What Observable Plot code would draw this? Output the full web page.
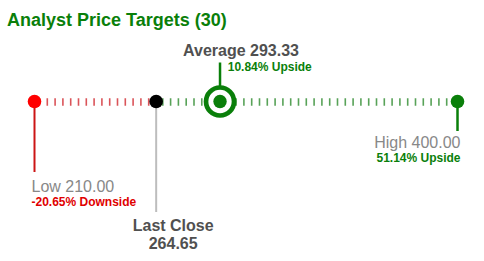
<!DOCTYPE html>
<html>
<head>
<meta charset="utf-8">
<script src="https://cdn.jsdelivr.net/npm/d3@7"></script>
<script src="https://cdn.jsdelivr.net/npm/@observablehq/plot@0.6"></script>
<style>
  body { margin: 0; background: #fff; font-family: "Liberation Sans", Arial, sans-serif; }
  #title { height: 30px; box-sizing: border-box; padding: 10px 0 0 7px; font-size: 18px; line-height: 20px; font-weight: bold; color: #0a7f0a; white-space: nowrap; }
  svg { display: block; }
</style>
</head>
<body>
<div id="title"></div>
<div id="chart"></div>
<script>
// ---- data ----
const titleText = "Analyst Price Targets";
const analystCount = 30;
const pointNames = ["Low", "Last Close", "Average", "High"];
const pointValues = [210.00, 264.65, 293.33, 400.00];
const pointChanges = ["-20.65% Downside", "", "10.84% Upside", "51.14% Upside"];

document.getElementById("title").textContent = `${titleText} (${analystCount})`;

const [low, close, avg, high] = pointValues;
const fmt = d3.format(".2f");

const GREEN = "#0a7f0a";
const RED = "#ff0000";
const LINE_Y = 101;
const FONT = "Liberation Sans, Arial, sans-serif";

const chart = Plot.plot({
  width: 484,
  height: 231,
  margin: 0,
  style: { fontFamily: FONT, background: "white" },
  x: { domain: [low, high], range: [34, 457], axis: null },
  y: { domain: [30, 261], range: [0, 231], axis: null },
  marks: [
    // dashed tick rails
    Plot.link([{ a: low, b: close }], { x1: "a", x2: "b", y1: LINE_Y + 0.5, y2: LINE_Y + 0.5, stroke: "#d3363c", strokeOpacity: 0.85, strokeWidth: 7.5, strokeDasharray: "1.6 6.2", strokeDashoffset: 3.6 }),
    Plot.link([{ a: close, b: avg }], { x1: "a", x2: "b", y1: LINE_Y + 0.5, y2: LINE_Y + 0.5, stroke: "#2e8b2e", strokeOpacity: 0.8, strokeWidth: 7.5, strokeDasharray: "1.6 6.2", strokeDashoffset: 1.97 }),
    Plot.link([{ a: avg, b: high }], { x1: "a", x2: "b", y1: LINE_Y + 0.5, y2: LINE_Y + 0.5, stroke: "#2e8b2e", strokeOpacity: 0.8, strokeWidth: 7.5, strokeDasharray: "1.6 6.2", strokeDashoffset: 0.32 }),
    // stems
    Plot.ruleX([low], { x: d => d, y1: LINE_Y, y2: 172, stroke: "#cc1515", strokeWidth: 2 }),
    Plot.ruleX([close], { x: d => d, y1: LINE_Y, y2: 212, stroke: "#bdbdbd", strokeWidth: 2 }),
    Plot.ruleX([high], { x: d => d, y1: LINE_Y, y2: 131, stroke: GREEN, strokeWidth: 2.5 }),
    Plot.ruleX([avg], { x: d => d, y1: 62.5, y2: LINE_Y - 14, stroke: GREEN, strokeWidth: 2.5 }),
    // dots
    Plot.dot([low], { x: d => d, y: LINE_Y, r: 6.8, fill: RED }),
    Plot.dot([close], { x: d => d, y: LINE_Y, r: 6.8, fill: "#000" }),
    Plot.dot([high], { x: d => d, y: LINE_Y, r: 6.8, fill: GREEN }),
    Plot.dot([avg], { x: d => d, y: LINE_Y, r: 14, fill: "white", stroke: GREEN, strokeWidth: 4.7 }),
    Plot.dot([avg], { x: d => d, y: LINE_Y, r: 6.7, fill: GREEN }),
    // labels: average
    Plot.text([avg], { x: d => d, y: 55.7, dx: 21, text: d => `${pointNames[2]} ${fmt(d)}`, textAnchor: "middle", lineAnchor: "bottom", fontSize: 16, fontWeight: "bold", fill: "#505050" }),
    Plot.text([avg], { x: d => d, y: 70.7, dx: 7.7, text: () => pointChanges[2], textAnchor: "start", lineAnchor: "bottom", fontSize: 12, fontWeight: "bold", fill: GREEN }),
    // labels: low
    Plot.text([low], { x: d => d, y: 191.7, dx: -3, text: d => `${pointNames[0]} ${fmt(d)}`, textAnchor: "start", lineAnchor: "bottom", fontSize: 16, fill: "#888" }),
    Plot.text([low], { x: d => d, y: 205, dx: -3, text: () => pointChanges[0], textAnchor: "start", lineAnchor: "bottom", fontSize: 12, fontWeight: "bold", fill: "#e00000" }),
    // labels: last close
    Plot.text([close], { x: d => d, y: 230, dx: 17, text: () => pointNames[1], textAnchor: "middle", lineAnchor: "bottom", fontSize: 16, fontWeight: "bold", fill: "#505050" }),
    Plot.text([close], { x: d => d, y: 248.4, dx: 17, text: d => fmt(d), textAnchor: "middle", lineAnchor: "bottom", fontSize: 16, fontWeight: "bold", fill: "#505050" }),
    // labels: high
    Plot.text([high], { x: d => d, y: 147.5, dx: 3, text: d => `${pointNames[3]} ${fmt(d)}`, textAnchor: "end", lineAnchor: "bottom", fontSize: 16, fill: "#888" }),
    Plot.text([high], { x: d => d, y: 161.5, dx: 3, text: () => pointChanges[3], textAnchor: "end", lineAnchor: "bottom", fontSize: 12, fontWeight: "bold", fill: GREEN })
  ]
});
document.getElementById("chart").appendChild(chart);
</script>
</body>
</html>
